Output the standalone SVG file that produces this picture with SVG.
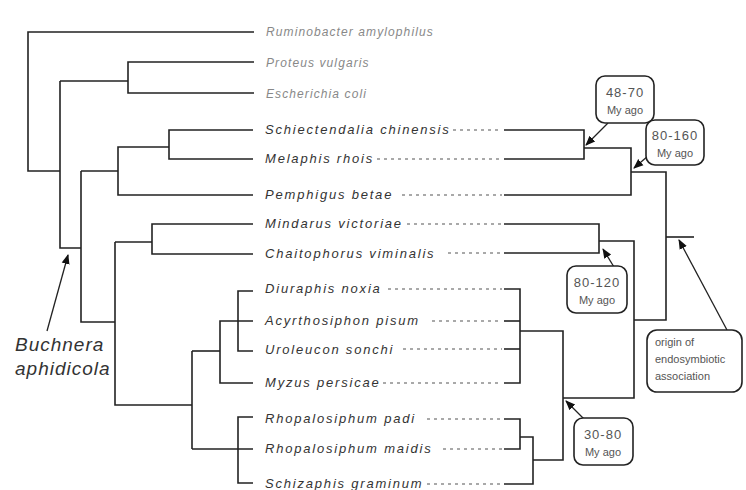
<svg xmlns="http://www.w3.org/2000/svg" width="746" height="490" viewBox="0 0 746 490">
<defs>
<style>
.t{font-family:"Liberation Sans",Arial,sans-serif;font-style:italic;font-size:13px;letter-spacing:1.8px;fill:#333}
.o{font-family:"Liberation Sans",Arial,sans-serif;font-style:italic;font-size:12px;letter-spacing:1.1px;fill:#888}
.br{fill:none;stroke:#222;stroke-width:1.6}
.d{fill:none;stroke:#555;stroke-width:1.2;stroke-dasharray:3 4}
.box{fill:#fff;stroke:#222;stroke-width:1.6}
.bt{font-family:"Liberation Sans",Arial,sans-serif;font-size:13px;letter-spacing:1px;fill:#555;text-anchor:middle}
.bs{font-family:"Liberation Sans",Arial,sans-serif;font-size:11px;fill:#555;text-anchor:middle}
.ot{font-family:"Liberation Sans",Arial,sans-serif;font-size:11px;fill:#555}
.bu{font-family:"Liberation Sans",Arial,sans-serif;font-style:italic;font-size:19px;letter-spacing:1px;fill:#333}
.ar{stroke:#222;stroke-width:1.3;fill:none}
</style>
<marker id="ah" markerWidth="10" markerHeight="10" refX="9" refY="5" orient="auto" markerUnits="userSpaceOnUse">
<path d="M0,1 L10,5 L0,9 Z" fill="#111"/>
</marker>
</defs>

<g id="connectors">
<!-- left tree -->
<path class="br" d="M254,32 H28 V171 H60"/>
<path class="br" d="M60,81 V248 H81"/>
<path class="br" d="M60,81 H128"/>
<path class="br" d="M254,62 H128 V93 H254"/>
<path class="br" d="M81,171 V322 H115"/>
<path class="br" d="M81,171 H118"/>
<path class="br" d="M169,147 H118 V195 H253"/>
<path class="br" d="M253,130 H169 V159 H253"/>
<path class="br" d="M115,242 V405 H192"/>
<path class="br" d="M115,242 H152"/>
<path class="br" d="M253,224 H152 V254 H253"/>
<path class="br" d="M192,351 V449"/>
<path class="br" d="M192,351 H220"/>
<path class="br" d="M253,321 H220 V383 H253"/>
<path class="br" d="M253,291 H238 V351 H253"/>
<path class="br" d="M192,449 H253"/>
<path class="br" d="M253,417 H238 V483 H253"/>

<!-- dashed leaders -->
<path class="d" d="M453,130 H502"/>
<path class="d" d="M377,159 H502"/>
<path class="d" d="M402,195 H502"/>
<path class="d" d="M407,224 H502"/>
<path class="d" d="M448,253 H502"/>
<path class="d" d="M388,289 H502"/>
<path class="d" d="M432,321 H502"/>
<path class="d" d="M403,349 H502"/>
<path class="d" d="M383,383 H502"/>
<path class="d" d="M427,419 H502"/>
<path class="d" d="M443,449 H502"/>
<path class="d" d="M427,484 H502"/>

<!-- right tree -->
<path class="br" d="M504,130 H584 V159 H504"/>
<path class="br" d="M584,148 H631 V195 H504"/>
<path class="br" d="M631,172 H666 V320 H634"/>
<path class="br" d="M666,237 H694"/>
<path class="br" d="M504,224 H599 V253 H504"/>
<path class="br" d="M599,241 H634 V398 H563"/>
<path class="br" d="M504,289 H520 V383 H504"/>
<path class="br" d="M504,321 H520"/>
<path class="br" d="M504,349 H520"/>
<path class="br" d="M520,331 H563 V460 H533"/>
<path class="br" d="M504,419 H520 V449 H504"/>
<path class="br" d="M520,437 H533 V484 H504"/>

<!-- arrows -->
<path class="ar" marker-end="url(#ah)" d="M608,123 L586,145"/>
<path class="ar" marker-end="url(#ah)" d="M648,156 L634,168"/>
<path class="ar" marker-end="url(#ah)" d="M614,267 L603,249"/>
<path class="ar" marker-end="url(#ah)" d="M727,330 L679,240"/>
<path class="ar" marker-end="url(#ah)" d="M585,420 L566,401"/>
<path class="ar" marker-end="url(#ah)" d="M47,331 L68,255"/>
</g>

<g id="labels">
<text class="o" x="266" y="36">Ruminobacter amylophilus</text>
<text class="o" x="266" y="67">Proteus vulgaris</text>
<text class="o" x="266" y="98">Escherichia coli</text>
<text class="t" x="265" y="134">Schiectendalia chinensis</text>
<text class="t" x="265" y="163">Melaphis rhois</text>
<text class="t" x="265" y="199">Pemphigus betae</text>
<text class="t" x="265" y="228">Mindarus victoriae</text>
<text class="t" x="265" y="258">Chaitophorus viminalis</text>
<text class="t" x="265" y="293">Diuraphis noxia</text>
<text class="t" x="265" y="325">Acyrthosiphon pisum</text>
<text class="t" x="265" y="354">Uroleucon sonchi</text>
<text class="t" x="265" y="387">Myzus persicae</text>
<text class="t" x="265" y="423">Rhopalosiphum  padi</text>
<text class="t" x="265" y="453">Rhopalosiphum  maidis</text>
<text class="t" x="265" y="488">Schizaphis graminum</text>
</g>

<g id="buchnera">
<text class="bu" x="15" y="351">Buchnera</text>
<text class="bu" x="15" y="375">aphidicola</text>
</g>

<g id="box-48-70">
<rect class="box" x="596" y="76" width="58" height="47" rx="9"/>
<text class="bt" x="625" y="97">48-70</text>
<text class="bs" x="625" y="114">My ago</text>
</g>
<g id="box-80-160">
<rect class="box" x="646" y="120" width="58" height="45" rx="9"/>
<text class="bt" x="675" y="140">80-160</text>
<text class="bs" x="675" y="157">My ago</text>
</g>
<g id="box-80-120">
<rect class="box" x="567" y="266" width="60" height="47" rx="9"/>
<text class="bt" x="597" y="287">80-120</text>
<text class="bs" x="597" y="304">My ago</text>
</g>
<g id="box-30-80">
<rect class="box" x="574" y="418" width="59" height="47" rx="9"/>
<text class="bt" x="603" y="439">30-80</text>
<text class="bs" x="603" y="456">My ago</text>
</g>
<g id="box-origin">
<rect class="box" x="647" y="330" width="95" height="62" rx="10"/>
<text class="ot" x="655" y="346">origin of</text>
<text class="ot" x="655" y="363">endosymbiotic</text>
<text class="ot" x="655" y="380">association</text>
</g>
</svg>
